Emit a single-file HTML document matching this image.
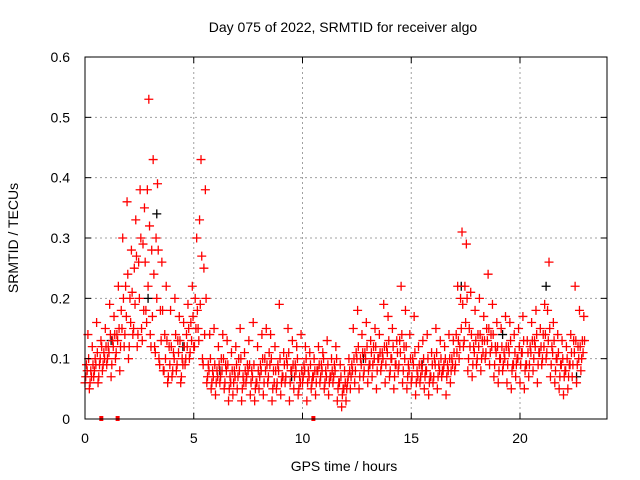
<!DOCTYPE html>
<html><head><meta charset="utf-8"><style>
body{margin:0;background:#fff}
svg{display:block;font-family:"Liberation Sans",sans-serif;font-size:14px}
</style></head><body>
<svg id="c" width="640" height="480">
<text x="343" y="32" text-anchor="middle">Day 075 of 2022, SRMTID for receiver algo</text>
<text x="344" y="471" text-anchor="middle">GPS time / hours</text>
<text transform="translate(18,238) rotate(-90)" text-anchor="middle">SRMTID / TECUs</text>
<g id="grid"></g><g id="marks"></g><g id="axes"></g>
</svg>
<script>
const xTicks=[0,5,10,15,20];
const yTicks=[0,0.1,0.2,0.3,0.4,0.5,0.6];
const yTickLabels=["0","0.1","0.2","0.3","0.4","0.5","0.6"];
const binHours=0.2;
const redValues=[
6,9,14, 5,8,12, 7,10,16, 6,9,13, 8,11,15, 9,12,19, 7,13,17, 10,14,22, 8,18,30, 12,22,36,
10,20,28, 14,25,33, 12,26,38, 15,29,35, 18,38,53, 14,28,43, 12,30,39, 10,18,26, 8,14,22, 6,12,18,
7,11,20, 8,13,17, 6,10,16, 9,14,19, 10,16,22, 12,20,30, 15,33,43, 10,25,38, 6,9,14, 5,8,15,
4,8,12, 6,10,14, 5,9,13, 3,7,11, 4,8,12, 5,10,15, 3,7,11, 6,9,13, 4,8,16, 3,6,12,
5,9,14, 4,10,15, 6,11,14, 3,8,12, 5,9,19, 4,7,11, 6,10,15, 3,8,13, 5,9,12, 4,7,14,
6,9,12, 3,8,11, 5,7,10, 4,8,12, 6,9,11, 5,8,13, 4,7,10, 6,9,12, 3,6,9, 2,5,8,
3,6,10, 5,9,15, 6,11,18, 5,10,14, 7,11,16, 6,9,13, 7,12,15, 5,10,14, 8,11,19, 6,12,17,
7,10,15, 5,9,13, 8,13,22, 6,12,18, 5,9,14, 6,10,17, 4,8,12, 6,9,13, 5,8,14, 4,7,11,
6,10,15, 5,9,13, 7,8,12, 4,9,14, 6,10,13, 8,14,22, 10,20,31, 12,22,29, 8,15,21, 7,12,18,
9,14,20, 8,13,17, 10,15,24, 9,14,19, 7,12,16, 6,10,15, 8,11,17, 6,12,16, 5,9,14, 7,10,15,
6,11,17, 5,9,13, 7,12,16, 8,13,18, 6,11,15, 9,14,19, 10,18,26, 7,12,16, 6,10,14, 5,9,13,
4,8,12, 5,9,14, 7,13,22, 6,12,18, 8,13,17];
const redCore=[
7,8,10, 6,7,9, 8,9,11, 7,10,12, 9,10,12, 10,11,14, 9,12,14, 11,13,15,
12,15,20, 14,17,24, 12,16,21, 15,19,27, 14,20,30, 13,18,26, 16,22,32, 12,17,24, 11,20,28, 9,13,18,
8,10,13, 7,9,12, 8,10,14, 9,11,13, 7,9,12, 10,12,15, 11,13,17, 12,15,18,
13,19,27, 9,14,20,
7,8,10, 6,7,9, 6,7,9, 7,8,10, 6,8,9, 5,6,8, 6,7,9, 7,8,10, 5,6,8, 7,8,9, 6,7,9,
5,6,8, 7,8,10, 6,8,9, 7,9,10, 5,6,8, 6,8,10, 6,7,9, 7,9,11, 6,8,9, 7,8,10, 5,6,8,
7,8,10, 6,7,9, 6,7,8, 6,8,9, 7,8,10, 6,7,9, 6,7,8, 7,8,10, 5,6,7, 4,5,6,
5,7,8, 7,8,10, 8,10,12, 7,9,11, 8,10,12, 8,9,11, 9,10,12, 8,10,11, 9,10,12, 9,11,13, 8,10,12, 7,9,11, 9,11,14, 8,10,12, 7,8,10,
7,9,11, 6,7,9, 7,8,10, 7,8,10, 6,7,9, 7,9,11, 7,8,10, 8,9,10, 7,8,10, 8,9,11,
9,11,13, 12,15,19, 13,16,20, 10,12,14,
9,11,13, 10,12,14, 10,11,13, 11,13,15, 11,12,14, 9,11,12, 8,10,12, 9,10,12, 9,11,13, 8,9,11,
9,10,12, 9,11,13, 8,9,11, 9,11,13, 10,12,14, 9,11,12, 10,12,14, 11,13,15, 9,11,13, 8,10,11,
7,9,10, 7,8,10, 7,9,11, 9,11,13, 9,10,12, 10,11,13];
const blackHours=[1.2,2.9,3.3,4.5,6.2,9.5,12.8,15.5,17.3,19.2,21.2,22.6];
const blackValues=[0.13,0.2,0.34,0.12,0.08,0.07,0.1,0.09,0.22,0.14,0.22,0.07];
const zeroHours=[0.75,1.5,10.5];
const X=h=>85+h*21.75, Y=v=>419-v*603.3;
const NS="http://www.w3.org/2000/svg";
function mk(tag,at,parent){const e=document.createElementNS(NS,tag);for(const k in at)e.setAttribute(k,at[k]);parent.appendChild(e);return e;}
const grid=document.getElementById('grid'),marks=document.getElementById('marks'),axes=document.getElementById('axes');
xTicks.forEach(t=>{
 if(t>0){const g=mk('line',{x1:X(t),x2:X(t),y1:57,y2:419,stroke:'#a0a0a0','stroke-dasharray':'2,3'},grid);
 
 }
 const l=mk('text',{x:X(t),y:443,'text-anchor':'middle'},axes);l.textContent=t;
 
 
 mk('line',{x1:X(t),x2:X(t),y1:419,y2:413,stroke:'#000'},axes);
 mk('line',{x1:X(t),x2:X(t),y1:57,y2:63,stroke:'#000'},axes);
});
yTicks.forEach((t,i)=>{
 if(t>0&&t<0.6){const g=mk('line',{x1:85,x2:607,y1:Y(t),y2:Y(t),stroke:'#a0a0a0','stroke-dasharray':'2,3'},grid);
 
 }
 const l=mk('text',{x:70,y:Y(t)+5,'text-anchor':'end'},axes);l.textContent=yTickLabels[i];
 
 
 mk('line',{x1:85,x2:91,y1:Y(t),y2:Y(t),stroke:'#000'},axes);
 mk('line',{x1:601,x2:607,y1:Y(t),y2:Y(t),stroke:'#000'},axes);
});
const box=mk('rect',{x:85,y:57,width:522,height:362,fill:'none',stroke:'#000'},axes);


function cross(h,v,col){
 const x=X(h),y=Y(v);
 return mk('path',{d:`M${x-4.5},${y}h9M${x},${y-4.5}v9`,stroke:col,'stroke-width':1.3,fill:'none'},marks);
}
blackHours.forEach((h,i)=>{const p=cross(h,blackValues[i],'#000');
 
 });
redValues.forEach((v,i)=>{
 const b=Math.floor(i/3),j=i%3;
 const p=cross(b*binHours+j*0.067,v/100,'#f00');
 
 
});
redCore.forEach((v,i)=>{
 const b=Math.floor(i/3),j=i%3;
 const p=cross(b*binHours+j*0.067+0.033,v/100,'#f00');
 
 
});
zeroHours.forEach(h=>{
 const r=mk('rect',{x:X(h)-2,y:Y(0)-3,width:4,height:5,fill:'#f00'},marks);
 
 
});
</script>
</body></html>
